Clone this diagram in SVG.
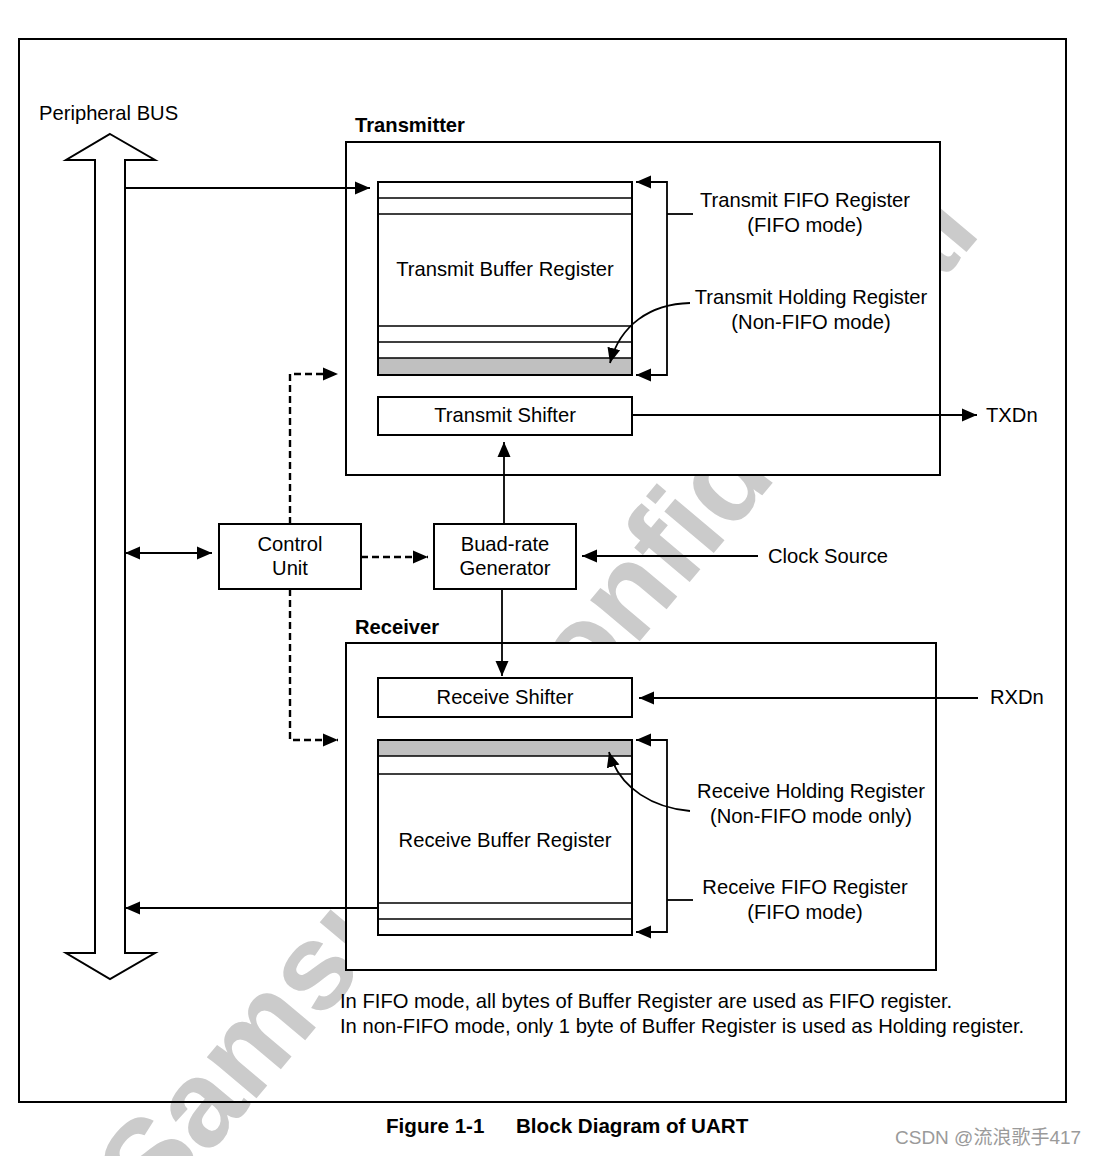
<svg xmlns="http://www.w3.org/2000/svg" width="1097" height="1156" viewBox="0 0 1097 1156">
<style>
.box{fill:#fff;stroke:#000;stroke-width:2}
.in{stroke:#000;stroke-width:1.6;fill:none}
.ln{stroke:#000;stroke-width:1.8;fill:none}
.dash{stroke:#000;stroke-width:2.4;fill:none;stroke-dasharray:7 4}
text{font-family:"Liberation Sans",Arial,sans-serif;font-size:20.2px;fill:#000}
.b{font-weight:bold}
.cap{font-size:20.6px}
.c{text-anchor:middle}
.wm{font-weight:bold;font-size:122px;fill:#cbcbcb}
</style>
<defs>
<marker id="ah" markerUnits="userSpaceOnUse" markerWidth="16" markerHeight="14" refX="15" refY="7" orient="auto-start-reverse" viewBox="0 0 16 14">
<path d="M0,0.5 L15,7 L0,13.5 z" fill="#000"/>
</marker>
</defs>
<rect width="1097" height="1156" fill="#fff"/>
<text class="wm" transform="translate(155,1219) rotate(-50)">Samsung Confidential</text>
<rect id="frame" x="19" y="39" width="1047" height="1063" fill="none" stroke="#000" stroke-width="2"/>

<g id="bus">
<polygon points="110,134 155,160 125,160 125,953 155,953 110,979 66,953 95,953 95,160 66,160" class="box"/>
<text x="39" y="120">Peripheral BUS</text>
</g>

<g id="transmitter">
<rect x="346" y="142" width="594" height="333" class="box"/>
<text class="b" x="355" y="132">Transmitter</text>
</g>

<g id="receiver">
<rect x="346" y="643" width="590" height="327" class="box"/>
<text class="b" x="355" y="634">Receiver</text>
</g>

<g id="tx-buffer">
<rect x="378" y="358" width="254" height="17" fill="#c0c0c0"/>
<rect x="378" y="182" width="254" height="193" class="box" style="fill:none"/>
<path class="in" d="M378,198 H632 M378,214 H632 M378,326 H632 M378,342 H632 M378,358 H632"/>
<text class="c" x="505" y="276">Transmit Buffer Register</text>
</g>

<g id="tx-shifter">
<rect x="378" y="397" width="254" height="38" class="box"/>
<text class="c" x="505" y="422">Transmit Shifter</text>
</g>

<g id="control-unit">
<rect x="219" y="524" width="142" height="65" class="box"/>
<text class="c" x="290" y="551">Control</text>
<text class="c" x="290" y="575">Unit</text>
</g>

<g id="baud-gen">
<rect x="434" y="524" width="142" height="65" class="box"/>
<text class="c" x="505" y="551">Buad-rate</text>
<text class="c" x="505" y="575">Generator</text>
</g>

<g id="rx-shifter">
<rect x="378" y="678" width="254" height="39" class="box"/>
<text class="c" x="505" y="704">Receive Shifter</text>
</g>

<g id="rx-buffer">
<rect x="378" y="740" width="254" height="16" fill="#c0c0c0"/>
<rect x="378" y="740" width="254" height="195" class="box" style="fill:none"/>
<path class="in" d="M378,756 H632 M378,774 H632 M378,903 H632 M378,919 H632"/>
<text class="c" x="505" y="847">Receive Buffer Register</text>
</g>

<g id="connectors">
<line class="ln" x1="125" y1="188" x2="370" y2="188" marker-end="url(#ah)"/>
<path class="ln" d="M636,182 L667,182 L667,375 L636,375" marker-start="url(#ah)" marker-end="url(#ah)"/>
<line class="ln" x1="667" y1="214" x2="693" y2="214"/>
<path class="ln" d="M690,303 C650,304 620,325 610,363" marker-end="url(#ah)"/>
<line class="ln" x1="632" y1="415" x2="977" y2="415" marker-end="url(#ah)"/>
<path class="dash" d="M290,524 L290,374 L338,374" marker-end="url(#ah)"/>
<path class="dash" d="M290,589 L290,740 L338,740" marker-end="url(#ah)"/>
<path class="dash" d="M361,557 L428,557" marker-end="url(#ah)"/>
<line class="ln" x1="125" y1="553" x2="212" y2="553" marker-start="url(#ah)" marker-end="url(#ah)"/>
<line class="ln" x1="504" y1="524" x2="504" y2="442" marker-end="url(#ah)"/>
<line class="ln" x1="758" y1="556" x2="582" y2="556" marker-end="url(#ah)"/>
<line class="ln" x1="502" y1="589" x2="502" y2="676" marker-end="url(#ah)"/>
<line class="ln" x1="978" y1="698" x2="639" y2="698" marker-end="url(#ah)"/>
<path class="ln" d="M636,740 L667,740 L667,932 L636,932" marker-start="url(#ah)" marker-end="url(#ah)"/>
<line class="ln" x1="667" y1="900" x2="693" y2="900"/>
<path class="ln" d="M690,811 C655,808 620,790 609,752" marker-end="url(#ah)"/>
<line class="ln" x1="378" y1="908" x2="125" y2="908" marker-end="url(#ah)"/>
</g>

<g id="labels">
<text class="c" x="805" y="207">Transmit FIFO Register</text>
<text class="c" x="805" y="232">(FIFO mode)</text>
<text class="c" x="811" y="304">Transmit Holding Register</text>
<text class="c" x="811" y="329">(Non-FIFO mode)</text>
<text x="986" y="422">TXDn</text>
<text x="768" y="563">Clock Source</text>
<text x="990" y="704">RXDn</text>
<text class="c" x="811" y="798">Receive Holding Register</text>
<text class="c" x="811" y="823">(Non-FIFO mode only)</text>
<text class="c" x="805" y="894">Receive FIFO Register</text>
<text class="c" x="805" y="919">(FIFO mode)</text>
<text x="340" y="1008">In FIFO mode, all bytes of Buffer Register are used as FIFO register.</text>
<text x="340" y="1033">In non-FIFO mode, only 1 byte of Buffer Register is used as Holding register.</text>
<text class="b cap" x="386" y="1133">Figure 1-1</text>
<text class="b cap" x="516" y="1133">Block Diagram of UART</text>
<text x="895" y="1144" style="font-family:'Liberation Sans','Noto Sans CJK SC',sans-serif;font-size:19px;fill:#9a9a9a">CSDN @流浪歌手417</text>
</g>
</svg>
